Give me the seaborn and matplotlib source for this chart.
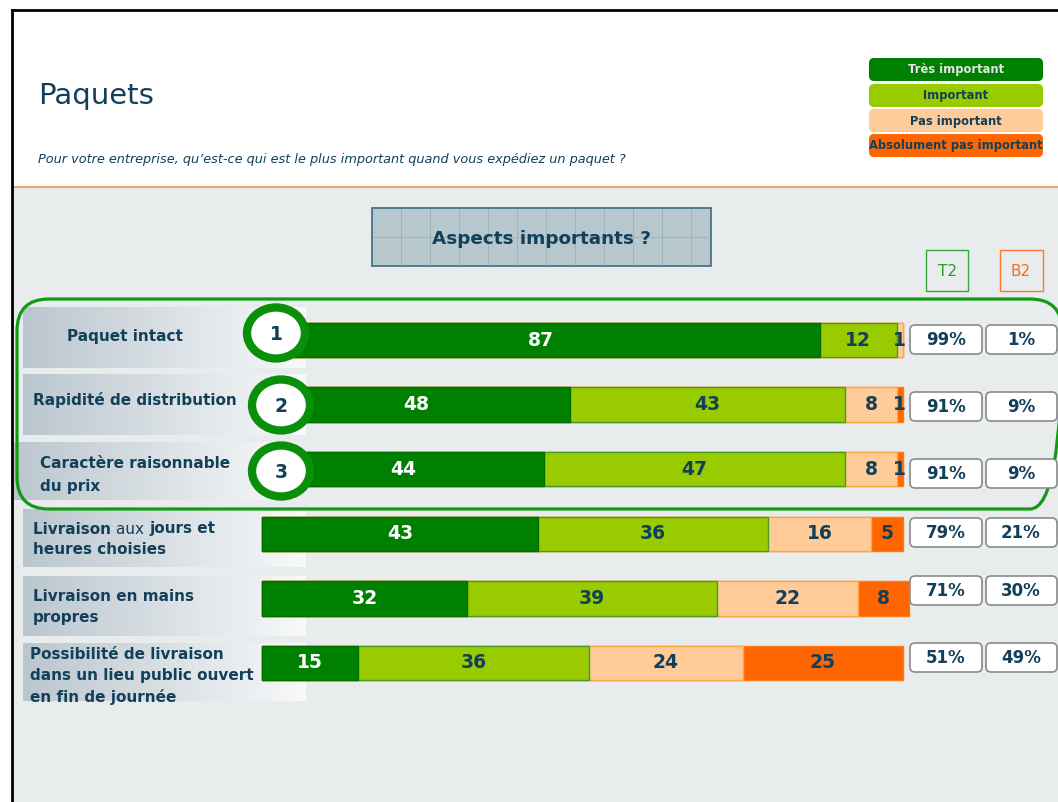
import numpy as np
import pandas as pd
import matplotlib
matplotlib.use("Agg")
import matplotlib.pyplot as plt
from matplotlib.patches import Rectangle, FancyBboxPatch, Ellipse
from matplotlib.transforms import Affine2D
import seaborn as sns

# -----------------------------
# Data
# -----------------------------
aspects = [
    "Paquet intact",
    "Rapidité de distribution",
    "Caractère raisonnable du prix",
    "Livraison aux jours et heures choisies",
    "Livraison en mains propres",
    "Possibilité de livraison dans un lieu public ouvert en fin de journée",
]
tres_important = [87, 48, 44, 43, 32, 15]
important = [12, 43, 47, 36, 39, 36]
pas_important = [1, 8, 8, 16, 22, 24]
absolument_pas = [0, 1, 1, 5, 8, 25]
t2 = ["99%", "91%", "91%", "79%", "71%", "51%"]
b2 = ["1%", "9%", "9%", "21%", "30%", "49%"]
ranks = ["1", "2", "3"]

series_names = ["Très important", "Important", "Pas important", "Absolument pas important"]
colors = ["#008000", "#99CC00", "#FFCC99", "#FF6600"]
edges = ["#006E00", "#4E9A1E", "#FFA640", "#FF7A10"]
NAVY = "#12405A"

# -----------------------------
# Figure + pixel helper
# -----------------------------
W, H = 1058, 802
fig = plt.figure(figsize=(W / 100, H / 100), dpi=100)
fig.patch.set_facecolor("white")
PX = Affine2D().scale(1 / W, -1 / H).translate(0, 1) + fig.transFigure

# background area below the header
fig.add_artist(Rectangle((13, 188), W, H, transform=PX, facecolor="#E8ECEC",
                         edgecolor="none", zorder=-2))
fig.add_artist(plt.Line2D([12, W], [187, 187], transform=PX, color="#F4A36A", lw=1.5, zorder=-1))
# frame
fig.add_artist(plt.Line2D([12, W], [10, 10], transform=PX, color="black", lw=2))
fig.add_artist(plt.Line2D([12, 12], [10, H], transform=PX, color="black", lw=2))

fig.text(38 / W, 1 - 96 / H, "Paquets", fontsize=21, color=NAVY, va="center", ha="left")
fig.text(38 / W, 1 - 160 / H,
         "Pour votre entreprise, qu’est-ce qui est le plus important quand vous expédiez un paquet ?",
         fontsize=9.3, style="italic", color=NAVY, va="center", ha="left")

# legend boxes
leg_y = [57, 83, 108, 133]
leg_text = ["#E6E6E6", NAVY, NAVY, NAVY]
for name, c, y, tc in zip(series_names, colors, leg_y, leg_text):
    fig.add_artist(FancyBboxPatch((869, y + 1), 174, 23, boxstyle="round,pad=0,rounding_size=5",
                                  transform=PX, facecolor=c, edgecolor="none"))
    fig.text(956 / W, 1 - (y + 13) / H, name, fontsize=8.3, fontweight="bold", color=tc,
             ha="center", va="center")

# "Aspects importants ?" banner with grid texture
fig.add_artist(Rectangle((372, 208), 339, 58, transform=PX, facecolor="#B7C7CE",
                         edgecolor="#3E6A80", lw=1.2))
for gx in np.arange(372 + 29, 711, 29):
    fig.add_artist(plt.Line2D([gx, gx], [209, 265], transform=PX, color="#98B0BA", lw=0.6))
fig.add_artist(plt.Line2D([373, 710], [237, 237], transform=PX, color="#98B0BA", lw=0.6))
fig.text(541 / W, 1 - 239 / H, "Aspects importants ?", fontsize=13.2, fontweight="bold",
         color=NAVY, ha="center", va="center")

# T2 / B2 headers
fig.add_artist(Rectangle((926, 250), 42, 41, transform=PX, facecolor="none", edgecolor="#3AA63A", lw=1))
fig.text(947 / W, 1 - 271 / H, "T2", fontsize=11, color="#2E9A2E", ha="center", va="center")
fig.add_artist(Rectangle((1000, 250), 43, 41, transform=PX, facecolor="none", edgecolor="#FF7A30", lw=1))
fig.text(1021 / W, 1 - 271 / H, "B2", fontsize=11, color="#FF6A1A", ha="center", va="center")

# top-3 outline
fig.add_artist(FancyBboxPatch((17, 299), 1045, 210, boxstyle="round,pad=0,rounding_size=32",
                              transform=PX, facecolor="none", edgecolor="#129A12", lw=2.3, zorder=3))

# row label panels (gradient)
panels = [(23, 307, 306, 368), (23, 374, 306, 435), (12, 442, 296, 500),
          (23, 509, 306, 567), (23, 576, 306, 636), (23, 643, 306, 701)]
c0 = np.array([186, 198, 206]) / 255
c1 = np.array([248, 249, 250]) / 255
for x0, y0, x1, y1 in panels:
    t = np.linspace(0, 1, x1 - x0)[None, :, None]
    grad = c0 + (c1 - c0) * t
    img = np.repeat(grad, y1 - y0, axis=0)
    fig.figimage(img, xo=x0, yo=H - y1, zorder=-1)

# -----------------------------
# Stacked bars (seaborn overlay of cumulative totals)
# -----------------------------
df = pd.DataFrame({
    "aspect": aspects,
    series_names[0]: tres_important,
    series_names[1]: important,
    series_names[2]: pas_important,
    series_names[3]: absolument_pas,
})
cum = df[series_names].cumsum(axis=1)

ax = fig.add_axes([0, 0, 1, 1], zorder=1)
ax.patch.set_alpha(0)
for i in range(3, -1, -1):
    sns.barplot(x=cum[series_names[i]], y=df["aspect"], orient="h", color=colors[i],
                edgecolor=edges[i], linewidth=1, width=0.53, saturation=1, ax=ax)

# map data -> pixels: x 0..100 -> 262..903, rows spaced 64.6 px starting at 340
x0px, xscale = 262, 6.41
ax.set_xlim(-x0px / xscale, (W - x0px) / xscale)
row0, rstep = 340, 64.6
ax.set_ylim((H - row0) / rstep, -row0 / rstep)
ax.set_axis_off()

for i, name in enumerate(series_names):
    for r in range(len(aspects)):
        v = df.loc[r, name]
        if v <= 0:
            continue
        xc = cum.loc[r, name] - v / 2
        ax.text(xc, r, str(v), ha="center", va="center", fontsize=13.5, fontweight="bold",
                color="white" if i == 0 else NAVY, zorder=5)

# -----------------------------
# Rank circles, row labels, T2/B2 boxes
# -----------------------------
circles = [(276, 333), (281, 405), (281, 471)]
for (cx, cy), rk in zip(circles, ranks):
    fig.add_artist(Ellipse((cx, cy), 58, 51, transform=PX, facecolor="white",
                           edgecolor="#0A8F0A", lw=6, zorder=4))
    fig.text(cx / W, 1 - (cy + 2) / H, rk, fontsize=13.5, fontweight="bold", color=NAVY,
             ha="center", va="center", zorder=5)

lab_kw = dict(fontsize=11, fontweight="bold", color=NAVY, va="center", ha="left")
fig.text(125 / W, 1 - 337 / H, "Paquet intact", **{**lab_kw, "ha": "center"})
fig.text(33 / W, 1 - 400 / H, "Rapidité de distribution", **lab_kw)
fig.text(40 / W, 1 - 475 / H, "Caractère raisonnable\ndu prix", linespacing=1.75, **lab_kw)
fig.text(33 / W, 1 - 607 / H, "Livraison en mains\npropres", linespacing=1.45, **lab_kw)
fig.text(30 / W, 1 - 676 / H, "Possibilité de livraison\ndans un lieu public ouvert\nen fin de journée",
         linespacing=1.45, **lab_kw)

# "Livraison aux jours et" mixes bold and regular words
renderer = fig.canvas.get_renderer()
xcur = 33
for piece, wt in [("Livraison ", "bold"), ("aux ", "normal"), ("jours et", "bold")]:
    t = fig.text(xcur / W, 1 - 529 / H, piece, fontsize=11, fontweight=wt, color=NAVY,
                 va="center", ha="left")
    xcur += t.get_window_extent(renderer).width
fig.text(33 / W, 1 - 550 / H, "heures choisies", **lab_kw)

box_y = [339, 406, 473, 532, 590, 657]
for y, a, b in zip(box_y, t2, b2):
    fig.add_artist(FancyBboxPatch((910, y - 14), 72, 29, boxstyle="round,pad=0,rounding_size=5",
                                  transform=PX, facecolor="white", edgecolor="#8A8A8A", lw=1.2, zorder=4))
    fig.add_artist(FancyBboxPatch((986, y - 14), 71, 29, boxstyle="round,pad=0,rounding_size=5",
                                  transform=PX, facecolor="white", edgecolor="#8A8A8A", lw=1.2, zorder=4))
    fig.text(946 / W, 1 - (y + 1) / H, a, fontsize=12, fontweight="bold", color=NAVY,
             ha="center", va="center", zorder=5)
    fig.text(1021 / W, 1 - (y + 1) / H, b, fontsize=12, fontweight="bold", color=NAVY,
             ha="center", va="center", zorder=5)

fig.savefig("out.png", dpi=100)
